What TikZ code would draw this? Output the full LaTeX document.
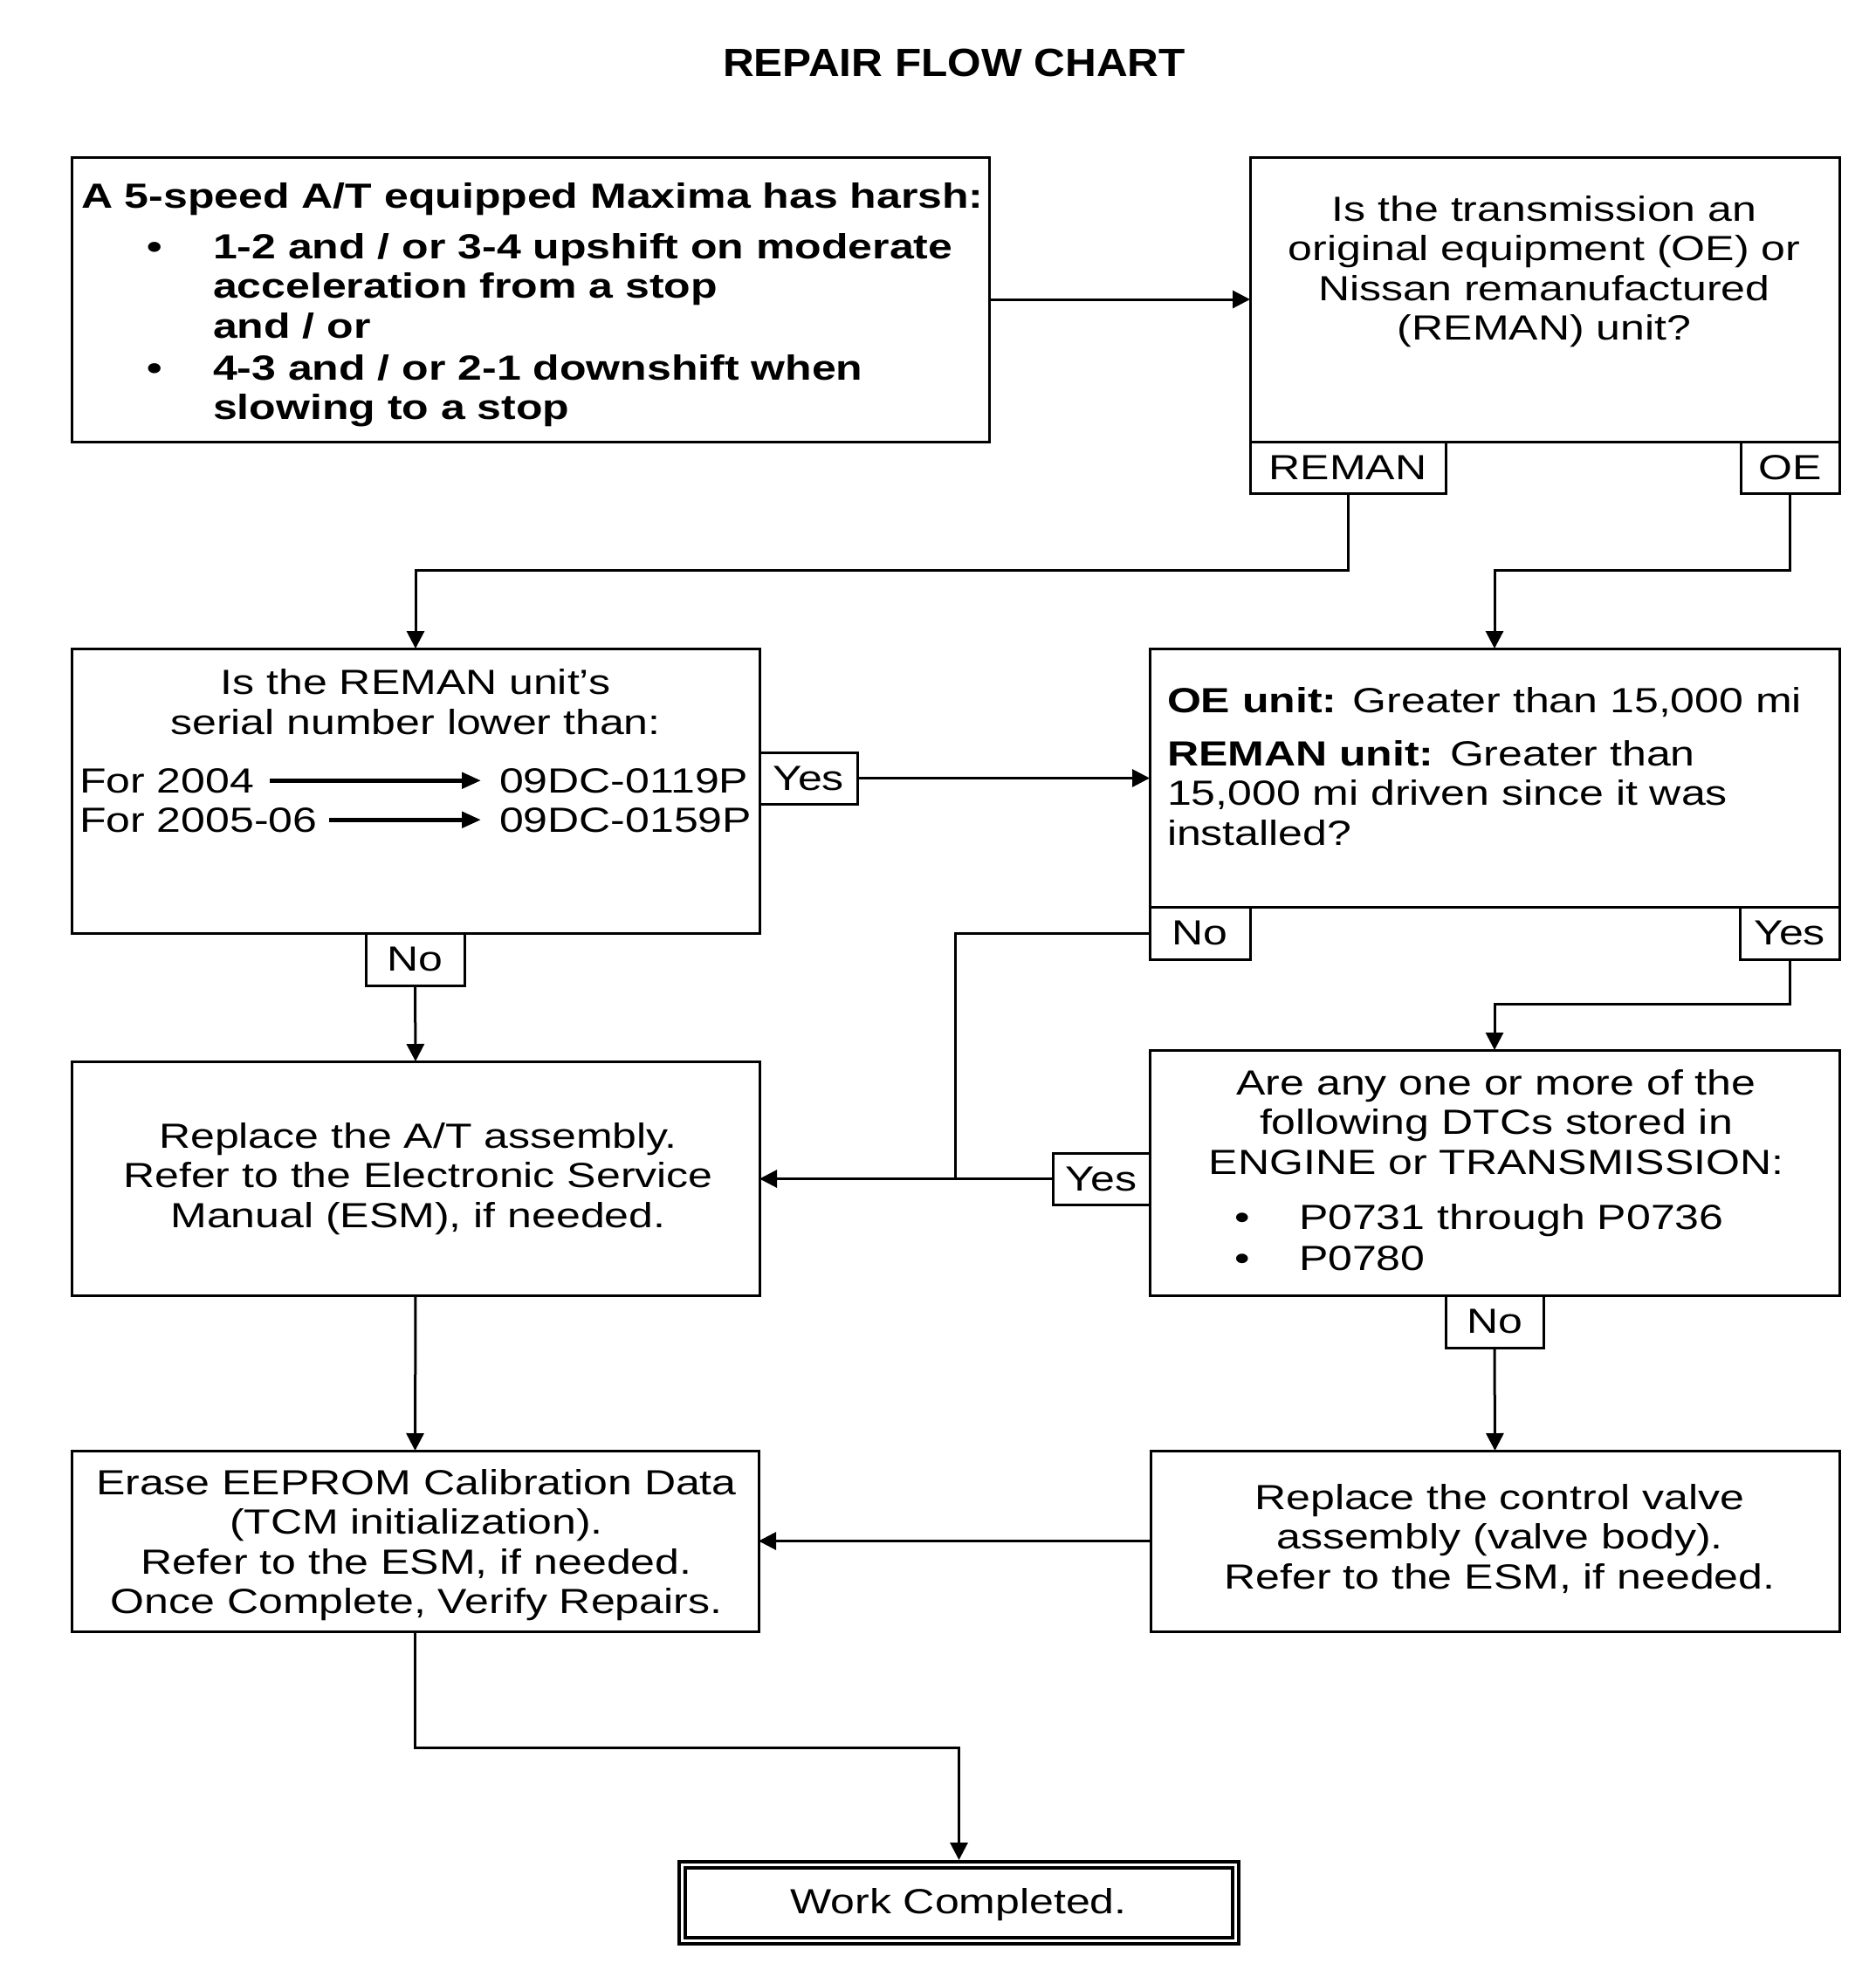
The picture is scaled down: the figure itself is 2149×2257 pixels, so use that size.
\documentclass[tikz,border=0pt]{standalone}
\usepackage{fontspec}
\setmainfont{Liberation Sans}[FakeStretch=1.25]
\newfontfamily\titlefont{Liberation Sans}[FakeStretch=1.1]
\usetikzlibrary{arrows.meta,calc}
\begin{document}
\begin{tikzpicture}[x=1pt,y=-1pt,
  every node/.style={inner sep=0pt, outer sep=0pt},
  box/.style={draw, line width=3pt, anchor=north west, rectangle},
  lbl/.style={draw, line width=3pt, anchor=north west, align=center, font=\fontsize{40}{45.5}\selectfont},
  txt/.style={font=\fontsize{40}{45.5}\selectfont},
  txtb/.style={font=\fontsize{40}{45.5}\selectfont\bfseries},
  conn/.style={line width=3pt},
  arr/.style={line width=3pt, -{Triangle[length=20pt,width=20pt]}},
  thk/.style={line width=5pt, -{Triangle[length=22pt,width=18pt]}}
]
\useasboundingbox (0,0) rectangle (2149,2257);

% title
\node[font=\titlefont\bfseries\fontsize{45}{50}\selectfont, anchor=base] (title) at (1093,87) {REPAIR FLOW CHART};

% boxes
\node[box, minimum width=1051pt, minimum height=326pt] (A) at (82,180) {};
\node[box, minimum width=675pt, minimum height=326pt] (B) at (1432,180) {};
\node[lbl, minimum width=224pt, minimum height=59pt] (reman) at (1432,506) {REMAN};
\node[lbl, minimum width=113pt, minimum height=59pt] (oe) at (1994,506) {OE};
\node[box, minimum width=788pt, minimum height=326pt] (C) at (82,743) {};
\node[lbl, minimum width=112pt, minimum height=59pt] (yesC) at (870,862) {Yes};
\node[lbl, minimum width=113pt, minimum height=60pt] (noC) at (419,1069) {No};
\node[box, minimum width=790pt, minimum height=296pt] (D) at (1317,743) {};
\node[lbl, minimum width=115pt, minimum height=60pt] (noD) at (1317,1039) {No};
\node[lbl, minimum width=114pt, minimum height=60pt] (yesD) at (1993,1039) {Yes};
\node[box, minimum width=788pt, minimum height=268pt] (E) at (82,1216) {};
\node[box, minimum width=790pt, minimum height=281pt] (F) at (1317,1203) {};
\node[lbl, minimum width=111pt, minimum height=59pt] (yesF) at (1206,1321) {Yes};
\node[lbl, minimum width=112pt, minimum height=60pt] (noF) at (1656,1484) {No};
\node[box, minimum width=787pt, minimum height=207pt] (G) at (82,1662) {};
\node[box, minimum width=789pt, minimum height=207pt] (H) at (1318,1662) {};
\node[draw, double, double distance=3pt, line width=4pt, minimum width=634pt, minimum height=87pt, anchor=north west] (work) at (781.5,2136.5) {};

% texts (multi-line nodes: base anchor = last line baseline)
\node[txtb, anchor=base west] (a1) at (93,238) {A 5-speed A/T equipped Maxima has harsh:};
\node[txtb, anchor=base] (ab1) at (177,296) {\textbullet};
\node[txtb, anchor=base west, align=left] (a2) at (244,387) {1-2 and / or 3-4 upshift on moderate\\acceleration from a stop\\and / or};
\node[txtb, anchor=base] (ab2) at (177,435) {\textbullet};
\node[txtb, anchor=base west, align=left] (a3) at (244,480.5) {4-3 and / or 2-1 downshift when\\slowing to a stop};

\node[txt, anchor=base, align=center] (bt) at (1769,389.5) {Is the transmission an\\original equipment (OE) or\\Nissan remanufactured\\(REMAN) unit?};

\node[txt, anchor=base, align=center] (ct) at (476,841) {Is the REMAN unit’s\\serial number lower than:};
\node[txt, anchor=base west] (f1) at (91,908) {For 2004};
\node[txt, anchor=base west] (f2) at (91,953) {For 2005-06};
\node[txt, anchor=base west] (s1) at (572,908) {09DC-0119P};
\node[txt, anchor=base west] (s2) at (572,953) {09DC-0159P};
\draw[thk] ([xshift=18pt]f1.east) -- ([xshift=-21pt]s1.west);
\draw[thk] ([xshift=14pt]f2.east) -- ([xshift=-21pt]s2.west);

\node[txt, anchor=base west] (d1) at (1337,816) {\textbf{OE unit:} Greater than 15,000 mi};
\node[txt, anchor=base west, align=left] (d2) at (1337,968) {\textbf{REMAN unit:} Greater than\\15,000 mi driven since it was\\installed?};

\node[txt, anchor=base, align=center] (ft) at (1714,1345) {Are any one or more of the\\following DTCs stored in\\ENGINE or TRANSMISSION:};
\node[txt, anchor=base] (fb1) at (1423,1408) {\textbullet};
\node[txt, anchor=base west] (fi1) at (1488,1408) {P0731 through P0736};
\node[txt, anchor=base] (fb2) at (1423,1455) {\textbullet};
\node[txt, anchor=base west] (fi2) at (1488,1455) {P0780};

\node[txt, anchor=base, align=center] (et) at (479,1406) {Replace the A/T assembly.\\Refer to the Electronic Service\\Manual (ESM), if needed.};
\node[txt, anchor=base, align=center] (gt) at (477,1848.5) {Erase EEPROM Calibration Data\\(TCM initialization).\\Refer to the ESM, if needed.\\Once Complete, Verify Repairs.};
\node[txt, anchor=base, align=center] (ht) at (1718,1820) {Replace the control valve\\assembly (valve body).\\Refer to the ESM, if needed.};
\node[txt, anchor=base] (wt) at (1098,2192) {Work Completed.};

% connectors
\coordinate (rj) at (0,653);
\coordinate (nj) at (1094,0);
\coordinate (yj) at (0,1150);
\coordinate (gj) at (0,2002);
\draw[arr] (A.east) -- (B.west);
\draw[arr] (reman.south) -- (reman.south |- rj) -| (C.north);
\draw[arr] (oe.south) -- (oe.south |- rj) -| (D.north);
\draw[arr] (yesC.east) -- (yesC.east -| D.west);
\draw[arr] (noC.south) -- (E.north);
\draw[conn] (noD.west) -| (nj |- yesF.west);
\draw[arr] (yesF.west) -- (yesF.west -| E.east);
\draw[arr] (yesD.south) -- (yesD.south |- yj) -| (F.north);
\draw[arr] (noF.south) -- (H.north);
\draw[arr] (E.south) -- (G.north);
\draw[arr] (H.west) -- (G.east);
\draw[arr, shorten >=5.5pt] (G.south) -- (G.south |- gj) -| (work.north);
\end{tikzpicture}
\end{document}
